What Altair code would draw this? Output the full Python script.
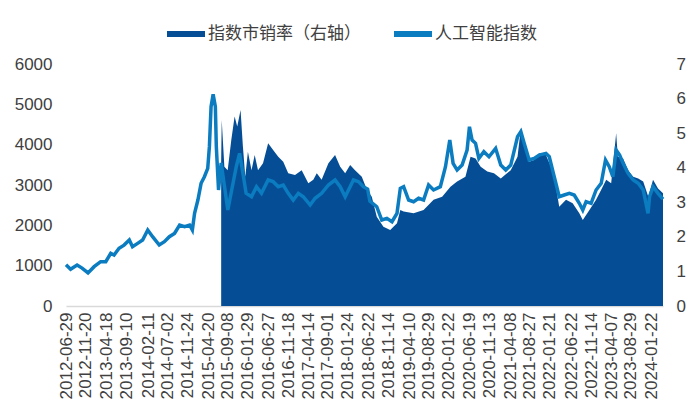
import altair as alt
import pandas as pd

# 人工智能指数 (left axis)
ai_dates = [
    "2012-06-29","2012-08-01","2012-09-17","2012-10-23","2012-12-05","2013-01-18","2013-03-06","2013-04-12",
    "2013-05-18","2013-06-11","2013-07-17","2013-08-22","2013-09-29","2013-10-22","2013-11-28","2014-01-03",
    "2014-02-09","2014-03-16","2014-05-03","2014-06-09","2014-07-15","2014-08-21","2014-09-27","2014-11-02",
    "2014-12-08","2014-12-28","2015-01-13","2015-02-06","2015-03-01","2015-03-25","2015-04-18","2015-04-30",
    "2015-05-12","2015-05-27","2015-06-12","2015-06-19","2015-07-05","2015-07-24","2015-09-10","2015-10-08",
    "2015-11-10","2015-12-04","2015-12-28","2016-01-20","2016-02-28","2016-04-04","2016-05-10","2016-06-27",
    "2016-08-02","2016-09-08","2016-10-14","2016-11-19","2016-12-25","2017-01-31","2017-03-08","2017-04-26",
    "2017-06-01","2017-07-18","2017-09-05","2017-10-23","2017-11-29","2018-01-04","2018-01-28","2018-03-05",
    "2018-04-10","2018-05-15","2018-06-15","2018-07-01","2018-08-20","2018-09-25","2018-11-01","2018-12-08",
    "2019-01-13","2019-02-06","2019-03-02","2019-04-07","2019-05-13","2019-06-18","2019-07-24","2019-08-29",
    "2019-10-04","2019-11-22","2019-12-29","2020-01-29","2020-02-22","2020-03-22","2020-04-27","2020-06-02",
    "2020-06-19","2020-07-08","2020-08-02","2020-08-26","2020-10-01","2020-11-07","2020-12-25","2021-01-31",
    "2021-03-08","2021-04-13","2021-06-01","2021-06-25","2021-07-19","2021-08-24","2021-09-29","2021-11-04",
    "2021-12-23","2022-01-16","2022-02-21","2022-03-29","2022-05-04","2022-06-10","2022-07-15","2022-08-21",
    "2022-09-15","2022-10-09","2022-11-14","2022-12-20","2023-01-26","2023-02-26","2023-03-25","2023-04-20",
    "2023-05-14","2023-06-08","2023-07-03","2023-08-08","2023-09-14","2023-10-20","2023-11-25","2023-12-30",
    "2024-01-10","2024-02-04","2024-03-11","2024-04-16",
]
ai_values = [
    1020, 910, 1016, 940, 820, 975, 1100, 1100,
    1305, 1265, 1430, 1510, 1636, 1470, 1553, 1636,
    1884, 1718, 1512, 1594, 1718, 1800, 2008, 1966,
    2008, 1884, 2298, 2628, 3042, 3206, 3413, 3950,
    4941, 5250, 4941, 3950, 2876, 3545, 2380, 2876,
    3453, 3785, 3290, 2794, 2710, 2958, 2794, 3124,
    3083, 2958, 3000, 2794, 2628, 2794, 2710, 2504,
    2670, 2794, 3000, 3124, 2958, 2710, 2876, 3124,
    3083, 2958, 2900, 2600, 2462, 2132, 2174, 2090,
    2298, 2918, 2958, 2628, 2586, 2670, 2628, 3000,
    2876, 2958, 3453, 4115, 3537, 3371, 3495, 3867,
    4445, 4115, 4033, 3661, 3825, 3701, 3909, 3495,
    3371, 3495, 4197, 4321, 4033, 3620, 3661, 3743,
    3785, 3701, 3206, 2710, 2752, 2794, 2752, 2546,
    2380, 2586, 2546, 2876, 3042, 3620, 3453, 3206,
    3867, 3743, 3537, 3290, 3124, 3042, 2876, 2298,
    2710, 2958, 2794, 2650,
]

# 指数市销率 (right axis)
ps_dates = [
    "2015-07-24","2015-07-28","2015-08-16","2015-09-09","2015-10-05","2015-10-29","2015-11-17","2015-12-11",
    "2015-12-28","2016-01-14","2016-02-02","2016-02-28","2016-03-22","2016-04-15","2016-05-21","2016-06-27",
    "2016-08-02","2016-09-08","2016-10-14","2016-11-19","2017-01-07","2017-02-24","2017-04-13","2017-05-19",
    "2017-06-13","2017-07-18","2017-09-05","2017-10-23","2017-11-29","2018-01-04","2018-02-09","2018-03-16",
    "2018-05-04","2018-06-10","2018-07-15","2018-08-20","2018-10-07","2018-11-25","2019-01-13","2019-02-06",
    "2019-03-02","2019-05-13","2019-07-24","2019-10-04","2019-12-05","2020-02-03","2020-03-22","2020-05-21",
    "2020-06-27","2020-08-02","2020-09-08","2020-10-26","2020-12-13","2021-01-31","2021-04-13","2021-06-01",
    "2021-06-25","2021-07-19","2021-08-24","2021-09-29","2021-11-04","2021-12-23","2022-01-28","2022-03-05",
    "2022-03-29","2022-05-17","2022-07-04","2022-08-21","2022-09-15","2022-11-02","2022-12-20","2023-01-26",
    "2023-03-03","2023-04-08","2023-05-14","2023-05-26","2023-07-03","2023-08-08","2023-09-14","2023-10-20",
    "2023-11-25","2024-01-01","2024-02-04","2024-03-11","2024-04-16",
]
ps_values = [
    4.20, 5.38, 4.03, 3.93, 4.80, 5.48, 5.19, 5.67,
    4.61, 3.74, 4.46, 3.93, 4.37, 3.93, 4.13, 4.71,
    4.51, 4.32, 4.17, 3.84, 3.79, 3.93, 3.55, 3.65,
    3.84, 3.65, 4.13, 4.37, 4.03, 3.84, 4.08, 3.93,
    3.74, 3.36, 3.16, 2.58, 2.29, 2.20, 2.39, 2.78,
    2.73, 2.68, 2.78, 3.07, 3.16, 3.45, 3.60, 3.74,
    4.32, 4.27, 4.03, 3.89, 3.84, 3.69, 3.93, 4.32,
    5.14, 4.75, 4.17, 4.22, 4.42, 4.37, 4.03, 3.45,
    2.87, 3.07, 2.97, 2.68, 2.49, 2.78, 3.07, 3.36,
    3.65, 3.55, 5.00, 4.32, 4.27, 3.93, 3.74, 3.69,
    3.60, 3.16, 3.65, 3.40, 3.26,
]

tick_labels = [
    "2012-06-29","2012-11-20","2013-04-18","2013-09-10","2014-02-11","2014-07-02","2014-11-24","2015-04-20",
    "2015-09-08","2016-01-29","2016-06-27","2016-11-18","2017-04-14","2017-09-01","2018-01-24","2018-06-22",
    "2018-11-14","2019-04-10","2019-08-29","2020-01-22","2020-06-19","2020-11-13","2021-04-08","2021-08-27",
    "2022-01-21","2022-06-22","2022-11-14","2023-04-07","2023-08-29","2024-01-22",
]

PS_NAME = "指数市销率（右轴）"
AI_NAME = "人工智能指数"
DARK = "#054e96"
LIGHT = "#0b7cc0"

ai_df = pd.DataFrame({"date": ai_dates, "value": ai_values, "series": AI_NAME})
ps_df = pd.DataFrame({"date": ps_dates, "value": ps_values, "series": PS_NAME})

tick_vals = [alt.DateTime(year=int(s[:4]), month=int(s[5:7]), date=int(s[8:]), utc=True) for s in tick_labels]

x_enc = alt.X(
    "date:T",
    scale=alt.Scale(type="utc", domain=[alt.DateTime(year=2012, month=6, date=29, utc=True),
                                        alt.DateTime(year=2024, month=4, date=16, utc=True)]),
    axis=alt.Axis(values=tick_vals, format="%Y-%m-%d", labelAngle=-90, labelPadding=6,
                  ticks=False, grid=False, domainColor="#d9d9d9", domainWidth=1.5,
                  labelFont="Liberation Sans", labelFontSize=17, labelColor="#404040",
                  labelOverlap=False, title=None),
)

color_scale = alt.Scale(domain=[PS_NAME, AI_NAME], range=[DARK, LIGHT])
legend = alt.Legend(
    title=None, orient="none", direction="horizontal", legendX=101, legendY=-49,
    symbolType="M-1,-0.16L1,-0.16L1,0.16L-1,0.16Z", symbolSize=1444, symbolStrokeWidth=0,
    labelFont="Noto Sans CJK SC", labelFontSize=17, labelColor="#404040", labelOffset=3,
    columnPadding=33, padding=0,
)

area = alt.Chart(ps_df).mark_area(interpolate="linear", opacity=1).encode(
    x=x_enc,
    y=alt.Y("value:Q", scale=alt.Scale(domain=[0, 7], nice=False),
            axis=alt.Axis(orient="right", values=[0, 1, 2, 3, 4, 5, 6, 7], grid=False, ticks=False,
                          domain=False, labelFont="Liberation Sans", labelFontSize=17,
                          labelColor="#404040", labelPadding=13, title=None)),
    color=alt.Color("series:N", scale=color_scale, legend=legend),
)

line = alt.Chart(ai_df).mark_line(strokeWidth=3.5, interpolate="linear").encode(
    x=x_enc,
    y=alt.Y("value:Q", scale=alt.Scale(domain=[0, 6000], nice=False),
            axis=alt.Axis(orient="left", values=[0, 1000, 2000, 3000, 4000, 5000, 6000], format="d",
                          grid=False, ticks=False, domain=False, labelFont="Liberation Sans",
                          labelFontSize=17, labelColor="#404040", labelPadding=14, title=None)),
    color=alt.Color("series:N", scale=color_scale, legend=legend),
)

chart = alt.layer(area, line).resolve_scale(y="independent").properties(
    width=597, height=242,
    autosize=alt.AutoSizeParams(type="none"),
    padding={"left": 58, "top": 56, "right": 29, "bottom": 100},
).configure_view(stroke=None)

chart.save("out.html", embed_options={"renderer": "svg", "actions": False})
